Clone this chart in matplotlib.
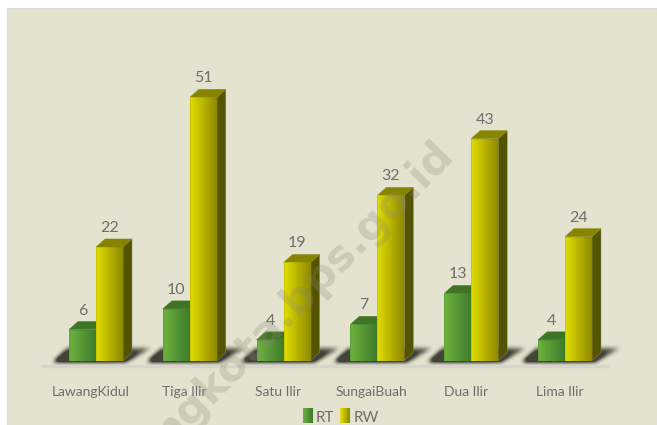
import numpy as np
import matplotlib
matplotlib.use("Agg")
import matplotlib.pyplot as plt
from matplotlib.patches import Polygon, Rectangle
from matplotlib.legend_handler import HandlerBase

categories = ["LawangKidul", "Tiga Ilir", "Satu Ilir", "SungaiBuah", "Dua Ilir", "Lima Ilir"]
rt_values = [6, 10, 4, 7, 13, 4]
rw_values = [22, 51, 19, 32, 43, 24]
series_names = ["RT", "RW"]

W, H = 657, 425
plt.rcParams['font.family'] = ['Lato', 'DejaVu Sans']
fig = plt.figure(figsize=(W / 100, H / 100), dpi=100, facecolor='white')
fig.patches.append(Rectangle((7 / W, 0), 1 - 7 / W, 1 - 8 / H, transform=fig.transFigure,
                             facecolor='#E3E3CF', edgecolor='#D9D9DE', lw=0.8, zorder=-10))

left, right, base, top = 42, 607, 360.5, 8
ax = fig.add_axes([left / W, 1 - base / H, (right - left) / W, (base - top) / H])
ax.patch.set_alpha(0)

PX_X = 93.8
PX_Y = 5.16
bw = 27 / PX_X
dx, dy = 9 / PX_X, 8 / PX_Y
TEXT = '#6E6E6E'


def rgb(c):
    return np.array(matplotlib.colors.to_rgb(c))


def grad(c0, c1):
    t = np.linspace(0, 1, 64)[None, :, None]
    return rgb(c0)[None, None, :] * (1 - t) + rgb(c1)[None, None, :] * t


def shadow_image():
    # floor shadow: slanted shape in pixels, softened with a repeated box blur
    w, h = 120, 34
    yy, xx = np.mgrid[0:h, 0:w]
    up = (h - 8 - yy)
    a = (xx >= 16 + up * 1.0) & (xx <= 88 + up * 1.8) & (up >= 0) & (up <= 13)
    m = a * np.clip(1.5 - up / 16.0, 0, 1.3) * np.clip(1.5 - (xx - 50) / 110.0, 0, 1.3)
    k = np.ones(5) / 5
    for _ in range(2):
        m = np.apply_along_axis(lambda r: np.convolve(r, k, mode='same'), 0, m)
        m = np.apply_along_axis(lambda r: np.convolve(r, k, mode='same'), 1, m)
    img = np.zeros((h, w, 4))
    img[..., :3] = rgb('#3A3A30')
    img[..., 3] = np.clip(m, 0, 0.95)
    return img


SHADOW = shadow_image()


def draw_bar(x0, v, c0, c1, ctop, cside, z):
    x1 = x0 + bw
    ax.imshow(grad(c0, c1), extent=(x0, x1, 0, v), aspect='auto', zorder=z + 0.2, interpolation='bilinear')
    ax.add_patch(Rectangle((x0, 0), bw, v, fill=False, edgecolor=c1, lw=0.4, alpha=0.5, zorder=z + 0.3))
    ax.add_patch(Polygon([(x1, 0), (x1 + dx, dy), (x1 + dx, v + dy), (x1, v)], facecolor=cside,
                         edgecolor='#8C8C78', lw=0.3, zorder=z))
    ax.add_patch(Polygon([(x0, v), (x0 + dx, v + dy), (x1 + dx, v + dy), (x1, v)], facecolor=ctop,
                         edgecolor=ctop, lw=0.3, zorder=z + 0.1))
    ax.annotate(str(v), (x0 + bw / 2, v), xytext=(0, 13.7), textcoords='offset points', ha='center',
                va='center', fontsize=11.5, color=TEXT, zorder=z + 1)


for i, (rt, rw) in enumerate(zip(rt_values, rw_values)):
    ax.imshow(SHADOW, extent=(i - 58 / PX_X, i + 62 / PX_X, -8 / PX_Y, 26 / PX_Y), aspect='auto',
              zorder=1, interpolation='bilinear', clip_on=False)
    draw_bar(i - bw, rt, '#6DB23E', '#3F7C2C', '#3F7425', '#3A6A20', 2)
    draw_bar(i, rw, '#E2DE00', '#8E8A00', '#878500', '#545400', 4)

ax.set_xlim(-54 / PX_X, 511 / PX_X)
ax.set_ylim(0, (base - top) / PX_Y)
ax.set_xticks(np.arange(len(categories)) - 5.5 / PX_X)
ax.set_xticklabels(categories, fontsize=11)
ax.tick_params(axis='x', length=0, pad=14.4, labelcolor=TEXT)
ax.set_yticks([])
for s in ['top', 'left', 'right']:
    ax.spines[s].set_visible(False)
sp = ax.spines['bottom']
sp.set_position(('outward', 4.2))
sp.set_color('#D6D6CE')
sp.set_linewidth(2.4)


class GradHandler(HandlerBase):
    def __init__(self, c0, c1):
        super().__init__()
        self.c0, self.c1 = rgb(c0), rgb(c1)

    def create_artists(self, legend, orig, xd, yd, width, height, fontsize, trans):
        out = []
        for k in range(12):
            t = k / 11
            out.append(Rectangle((xd + width * k / 12, yd - 1), width / 12 + 0.2, height + 2,
                                 facecolor=self.c0 * (1 - t) + self.c1 * t, edgecolor='none', transform=trans))
        return out


h_rt = Rectangle((0, 0), 1, 1)
h_rw = Rectangle((0, 0), 1, 1)
leg = fig.legend([h_rt, h_rw], series_names, loc='center', bbox_to_anchor=(340.5 / W, 1 - 418 / H), ncol=2,
                 frameon=False, fontsize=11, labelcolor=TEXT, handlelength=0.65, handleheight=0.8,
                 handletextpad=0.2, columnspacing=0.4, borderpad=0,
                 handler_map={h_rt: GradHandler('#6DB23E', '#3F7C2C'), h_rw: GradHandler('#E2DE00', '#8E8A00')})

fig.text(447 / W, 1 - 147 / H, "ngkota.bps.go.id", rotation=45.5, rotation_mode='anchor', ha='right', va='center',
         fontsize=31, fontweight='bold', family='DejaVu Sans', color='#8A8A78', alpha=0.27, zorder=20)

fig.savefig('out.png', dpi=100)
